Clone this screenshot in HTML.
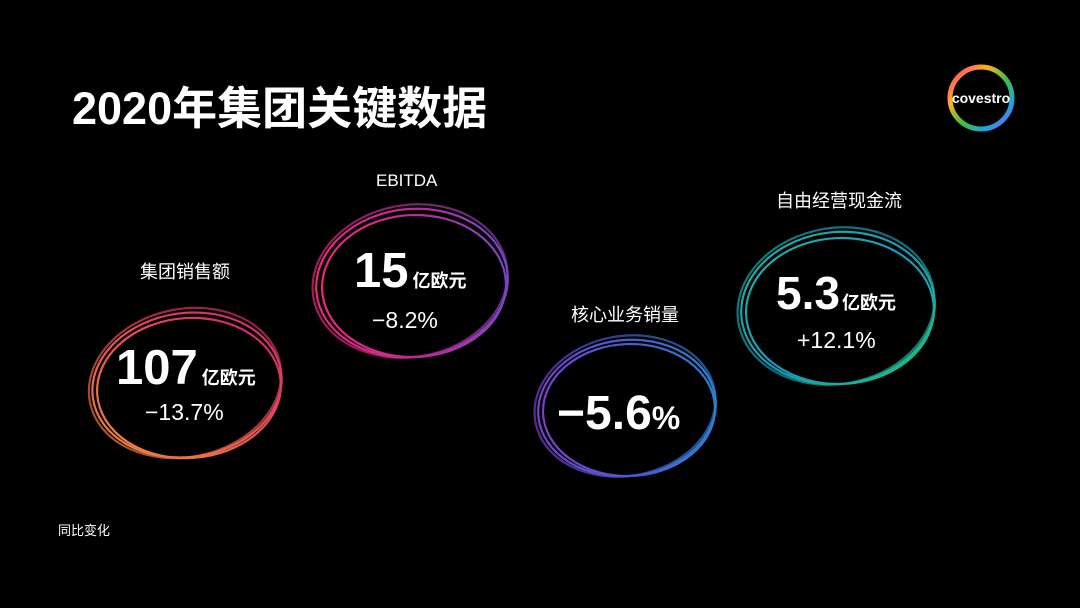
<!DOCTYPE html>
<html><head><meta charset="utf-8"><style>
html,body{margin:0;padding:0;background:#000;}
body{width:1080px;height:608px;position:relative;overflow:hidden;font-family:"Liberation Sans","Noto Sans CJK SC",sans-serif;color:#fff;}
.t{position:absolute;white-space:nowrap;}
</style></head><body>
<svg width="1080" height="608" style="position:absolute;left:0;top:0">
<defs>
<linearGradient id="g1" x1="0" y1="1" x2="1" y2="0"><stop offset="0" stop-color="#f08a3a"/><stop offset="0.6" stop-color="#e04a5a"/><stop offset="1" stop-color="#c81f78"/></linearGradient>
<linearGradient id="g2" x1="0" y1="0" x2="1" y2="0"><stop offset="0" stop-color="#e8287a"/><stop offset="0.6" stop-color="#b0309a"/><stop offset="1" stop-color="#7a45c0"/></linearGradient>
<linearGradient id="g3" x1="0" y1="0" x2="1" y2="0"><stop offset="0" stop-color="#7a40c8"/><stop offset="0.5" stop-color="#4a5ad0"/><stop offset="1" stop-color="#2a80d0"/></linearGradient>
<linearGradient id="g4" x1="0" y1="0" x2="1" y2="1"><stop offset="0" stop-color="#20b0a0"/><stop offset="0.5" stop-color="#1a98b8"/><stop offset="1" stop-color="#20c080"/></linearGradient>
<linearGradient id="lg" x1="0" y1="0" x2="1" y2="1"><stop offset="0" stop-color="#ff3080"/><stop offset="0.3" stop-color="#ffb020"/><stop offset="0.55" stop-color="#40c040"/><stop offset="0.8" stop-color="#20a0e0"/><stop offset="1" stop-color="#a040e0"/></linearGradient>
</defs>
<g fill="none" stroke="url(#g1)" stroke-width="2.2">
<ellipse cx="187" cy="385" rx="95" ry="72" transform="rotate(-8 187 385)"/>
<ellipse cx="189" cy="388" rx="92" ry="70" transform="rotate(-4 189 388)"/>
<ellipse cx="185" cy="383" rx="97" ry="74" transform="rotate(-12 185 383)" opacity=".7"/>
</g>
<g fill="none" stroke="url(#g2)" stroke-width="2.2">
<ellipse cx="412" cy="283" rx="96" ry="74" transform="rotate(-6 412 283)"/>
<ellipse cx="414" cy="286" rx="92" ry="71" transform="rotate(-2 414 286)"/>
<ellipse cx="410" cy="281" rx="98" ry="76" transform="rotate(-10 410 281)" opacity=".7"/>
</g>
<g fill="none" stroke="url(#g3)" stroke-width="2.2">
<ellipse cx="627" cy="408" rx="89" ry="68" transform="rotate(-6 627 408)"/>
<ellipse cx="629" cy="410" rx="86" ry="66" transform="rotate(-2 629 410)"/>
<ellipse cx="625" cy="406" rx="91" ry="70" transform="rotate(-10 625 406)" opacity=".7"/>
</g>
<g fill="none" stroke="url(#g4)" stroke-width="2.2">
<ellipse cx="838" cy="308" rx="97" ry="76" transform="rotate(-6 838 308)"/>
<ellipse cx="840" cy="311" rx="94" ry="73" transform="rotate(-2 840 311)"/>
<ellipse cx="836" cy="306" rx="99" ry="78" transform="rotate(-10 836 306)" opacity=".7"/>
</g>
<circle cx="981" cy="98" r="31" fill="none" stroke="url(#lg)" stroke-width="5"/>
<text x="981" y="103" fill="#fff" font-size="14" font-weight="bold" text-anchor="middle" font-family="Liberation Sans,sans-serif">covestro</text>
</svg>
<div class="t" style="left:72px;top:72px;font-size:45px;font-weight:bold;">2020年集团关键数据</div>

<div class="t" style="left:140px;top:258px;font-size:18px;">集团销售额</div>
<div class="t" style="left:116px;top:340px;font-size:49px;font-weight:bold;">107<span style="font-size:18px;margin-left:4px">亿欧元</span></div>
<div class="t" style="left:145px;top:399px;font-size:23px;">−13.7%</div>

<div class="t" style="left:376px;top:171px;font-size:17px;">EBITDA</div>
<div class="t" style="left:354px;top:243px;font-size:49px;font-weight:bold;">15<span style="font-size:18px;margin-left:4px">亿欧元</span></div>
<div class="t" style="left:372px;top:307px;font-size:23px;">−8.2%</div>

<div class="t" style="left:571px;top:301px;font-size:18px;">核心业务销量</div>
<div class="t" style="left:557px;top:386px;font-size:48px;font-weight:bold;">−5.6<span style="font-size:32px">%</span></div>

<div class="t" style="left:776px;top:187px;font-size:18px;">自由经营现金流</div>
<div class="t" style="left:776px;top:266px;font-size:46px;font-weight:bold;">5.3<span style="font-size:18px;margin-left:2px">亿欧元</span></div>
<div class="t" style="left:797px;top:327px;font-size:23px;">+12.1%</div>

<div class="t" style="left:58px;top:520px;font-size:13px;">同比变化</div>
</body></html>
